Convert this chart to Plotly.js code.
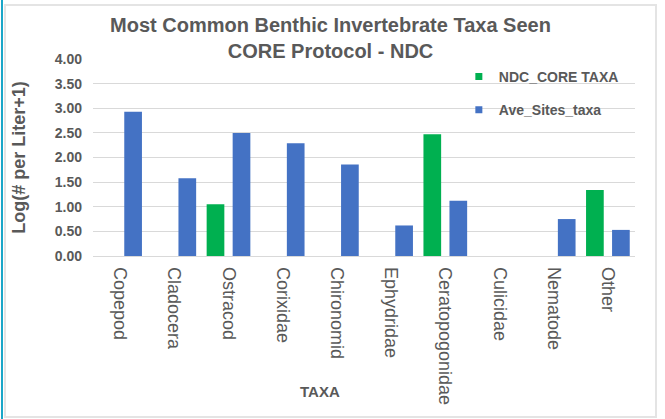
<!DOCTYPE html>
<html>
<head>
<meta charset="utf-8">
<script src="https://cdn.plot.ly/plotly-3.0.1.min.js"></script>
<style>
  html, body { margin: 0; padding: 0; background: #ffffff; }
  #wrap { position: relative; width: 665px; height: 419px; overflow: hidden; }
  #plot { position: absolute; left: 0; top: 0; width: 665px; height: 419px; }
  .frame { position: absolute; left: 4px; top: 4px; width: 649px; height: 410px; border: 2px solid #e4e4e4; pointer-events: none; }
  .edge { position: absolute; left: 1px; top: 0; width: 2px; height: 419px; background: #1aa6c8; pointer-events: none; }
</style>
</head>
<body>
<div id="wrap">
  <div id="plot"></div>
  <div class="frame"></div>
  <div class="edge"></div>
</div>
<script>
const categories = ["Copepod", "Cladocera", "Ostracod", "Corixidae", "Chironomid",
                    "Ephydridae", "Ceratopogonidae", "Culicidae", "Nematode", "Other"];
const ndcCoreTaxa = [0, 0, 1.05, 0, 0, 0, 2.47, 0, 0, 1.34];
const aveSitesTaxa = [2.93, 1.58, 2.50, 2.29, 1.86, 0.62, 1.12, 0, 0.75, 0.53];
const seriesNames = ["NDC_CORE TAXA", "Ave_Sites_taxa"];
const yTickVals = [0, 0.5, 1, 1.5, 2, 2.5, 3, 3.5, 4];
const xTitle = "TAXA";
const yTitle = "Log(# per Liter+1)";

const GREEN = "#00b050";
const BLUE = "#4472c4";
const TEXT = "#595959";
const FONT = "Liberation Sans, Arial, sans-serif";

const data = [
  { type: "bar", x: categories, y: ndcCoreTaxa, name: seriesNames[0],
    marker: { color: GREEN }, showlegend: false, hoverinfo: "x+y" },
  { type: "bar", x: categories, y: aveSitesTaxa, name: seriesNames[1],
    marker: { color: BLUE }, showlegend: false, hoverinfo: "x+y" },
  // legend entries (small square keys like the original)
  { type: "scatter", mode: "markers", x: [null], y: [null], name: seriesNames[0],
    marker: { symbol: "square", size: 7, color: GREEN }, legendgroup: "a" },
  { type: "scatter", mode: "markers", x: [null], y: [null], name: seriesNames[1],
    marker: { symbol: "square", size: 7, color: BLUE }, legendgroup: "b" }
];

const layout = {
  width: 665, height: 419,
  margin: { l: 93, r: 30, t: 59, b: 163, pad: 0 },
  paper_bgcolor: "#ffffff", plot_bgcolor: "#ffffff",
  font: { family: FONT, color: TEXT, size: 13 },
  title: {
    text: "<b>Most Common Benthic Invertebrate Taxa Seen<br>CORE Protocol - NDC</b>",
    font: { family: FONT, size: 20, color: TEXT },
    xref: "container", x: 0.497, xanchor: "center",
    yref: "container", y: 0.924, yanchor: "top"
  },
  barmode: "group",
  bargap: 0.04,
  bargroupgap: 0.32,
  xaxis: {
    type: "category",
    tickangle: 90,
    tickfont: { family: FONT, size: 18, color: TEXT },
    ticklabelstandoff: 10,
    showgrid: false, zeroline: false, showline: false,
    ticks: "",
    automargin: false
  },
  yaxis: {
    range: [0, 4],
    tickvals: yTickVals,
    tickformat: ".2f",
    tickfont: { family: FONT, size: 14, color: TEXT, weight: "bold" },
    ticklabelstandoff: 10,
    showgrid: true, gridcolor: "#d9d9d9", gridwidth: 1,
    zeroline: true, zerolinecolor: "#d9d9d9", zerolinewidth: 1,
    showline: false, ticks: "",
    title: { text: "<b>" + yTitle + "</b>", font: { family: FONT, size: 18, color: TEXT }, standoff: 24 },
    automargin: false
  },
  annotations: [{
    text: "<b>" + xTitle + "</b>",
    xref: "paper", yref: "paper",
    x: 0.419, y: -0.69, xanchor: "center", yanchor: "middle",
    showarrow: false,
    font: { family: FONT, size: 15, color: TEXT }
  }],
  legend: {
    x: 0.675, xanchor: "left",
    y: 0.99, yanchor: "top",
    bgcolor: "rgba(255,255,255,0)",
    font: { family: FONT, size: 14, color: TEXT, weight: "bold" },
    traceorder: "grouped",
    tracegroupgap: 12,
    itemwidth: 30
  },
  showlegend: true
};

Plotly.newPlot("plot", data, layout, { displayModeBar: false, staticPlot: true });
</script>
</body>
</html>
